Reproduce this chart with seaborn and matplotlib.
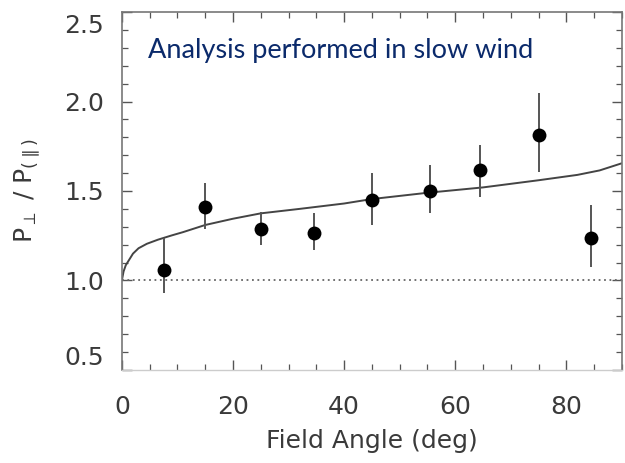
import numpy as np
import pandas as pd
import matplotlib
matplotlib.use("Agg")
import matplotlib.pyplot as plt
from matplotlib.ticker import MultipleLocator
from matplotlib.transforms import ScaledTranslation
import seaborn as sns

# ---- data ----
angle = [7.5, 15.0, 25.0, 34.5, 45.0, 55.5, 64.5, 75.0, 84.5]
ratio = [1.06, 1.41, 1.29, 1.265, 1.45, 1.50, 1.615, 1.815, 1.237]
err_low = [0.93, 1.29, 1.20, 1.17, 1.31, 1.377, 1.467, 1.606, 1.075]
err_high = [1.237, 1.545, 1.38, 1.375, 1.60, 1.645, 1.757, 2.048, 1.42]

model_angle = [0.0, 0.3, 0.7, 1.2, 2.0, 3.0, 4.5, 6.5, 9.0, 11.0, 15.0, 20.0,
               25.0, 32.0, 40.0, 45.0, 55.0, 65.0, 75.0, 82.0, 86.0, 90.0]
model_ratio = [1.0, 1.05, 1.085, 1.11, 1.15, 1.18, 1.205, 1.228, 1.252, 1.27,
               1.31, 1.345, 1.375, 1.40, 1.43, 1.455, 1.49, 1.52, 1.56, 1.59,
               1.615, 1.655]

x_ticks = [0, 20, 40, 60, 80]
y_ticks = [0.5, 1.0, 1.5, 2.0, 2.5]
annotation = "Analysis performed in slow wind"

pts = pd.DataFrame({"angle": angle, "ratio": ratio})
model = pd.DataFrame({"angle": model_angle, "ratio": model_ratio})

sns.set_style("ticks")
plt.rcParams["font.family"] = ["DejaVu Sans"]
plt.rcParams["mathtext.fontset"] = "dejavusans"

fig = plt.figure(figsize=(6.25, 4.63), dpi=100)
ax = fig.add_axes([0.195, 0.201, 0.8, 0.773])

ink = "#3a3a3a"

# reference line at 1
ax.axhline(1.0, color="#666666", lw=1.3, ls=(0, (1, 2)), zorder=1)

# model curve
sns.lineplot(data=model, x="angle", y="ratio", ax=ax, color="#444444",
             lw=1.4, zorder=2, legend=False)

# error bars
ax.vlines(angle, err_low, err_high, color="#555555", lw=1.4, zorder=3)

# points
sns.scatterplot(data=pts, x="angle", y="ratio", ax=ax, color="black", s=100,
                edgecolor="black", linewidth=0, zorder=4, legend=False)

ax.set_xlim(0, 90)
ax.set_ylim(0.5, 2.5)
ax.set_xticks(x_ticks)
ax.set_yticks(y_ticks)
ax.set_yticklabels([f"{v:.1f}" for v in y_ticks])
ax.xaxis.set_minor_locator(MultipleLocator(5))
ax.yaxis.set_minor_locator(MultipleLocator(0.1))

ax.tick_params(which="both", direction="in", top=True, right=True,
               color="#555555", labelcolor=ink)
ax.tick_params(which="major", length=7, width=1.0, labelsize=18)
ax.tick_params(which="minor", length=4, width=0.9)
ax.tick_params(axis="x", which="major", pad=18)
ax.tick_params(axis="y", which="major", pad=13)

# end labels sit slightly inside the frame, as in the reference
ylabels = ax.get_yticklabels()
ylabels[0].set_transform(ylabels[0].get_transform()
                         + ScaledTranslation(0, 0.14, fig.dpi_scale_trans))
ylabels[-1].set_transform(ylabels[-1].get_transform()
                          + ScaledTranslation(0, -0.11, fig.dpi_scale_trans))

for s in ["left", "right", "top"]:
    ax.spines[s].set_color("#777777")
    ax.spines[s].set_linewidth(1.2)
ax.spines["bottom"].set_color("#cccccc")
ax.spines["bottom"].set_linewidth(1.0)

ax.set_xlabel("Field Angle (deg)", fontsize=18, color=ink, labelpad=7)
ax.set_ylabel(r"$\mathregular{P_{\perp}\ /\ P_{(\parallel)}}$", fontsize=18,
              color=ink, labelpad=16)

ax.text(0.052, 0.872, annotation, transform=ax.transAxes, fontsize=19.5,
        family=["Lato", "DejaVu Sans"], color="#0b2a6b", ha="left",
        va="baseline")

fig.savefig("out.png", dpi=100)
